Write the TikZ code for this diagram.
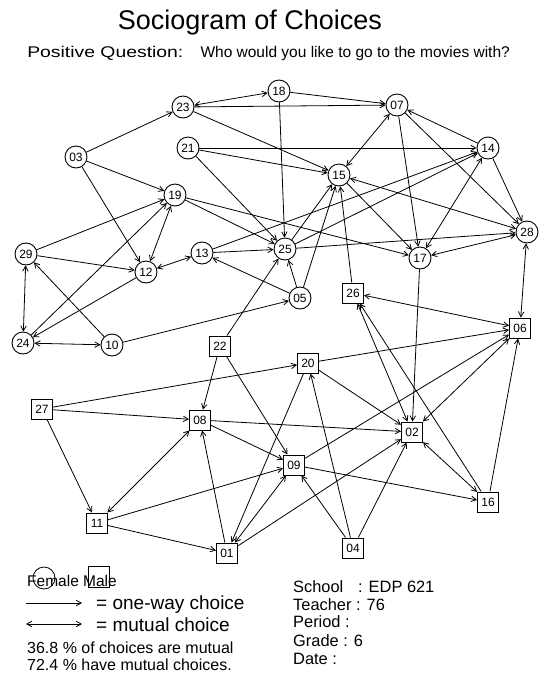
\documentclass[tikz,border=0pt]{standalone}
\usepackage{fontspec}
\setmainfont{Liberation Sans}
\usetikzlibrary{arrows.meta}
\pgfdeclarelayer{background}
\pgfsetlayers{background,main}
\begin{document}
\begin{tikzpicture}[x=1pt,y=-1pt,
  fem/.style={draw, circle, fill=white, minimum size=22pt, inner sep=0pt, line width=0.9pt, font=\fontsize{12}{12}\selectfont},
  mal/.style={draw, rectangle, fill=white, minimum width=21pt, minimum height=20pt, inner sep=0pt, line width=1pt, font=\fontsize{12}{12}\selectfont},
  ch/.style={-{Straight Barb[length=5pt,width=5.5pt]}, line width=0.8pt},
  mu/.style={{Straight Barb[length=5pt,width=5.5pt]}-{Straight Barb[length=5pt,width=5.5pt]}, line width=0.8pt},
  txt/.style={anchor=west, inner sep=0pt},
]
\useasboundingbox (0,0) rectangle (542,673);

% title
\node (title) at (250,23) {\fontsize{27}{27}\selectfont Sociogram of Choices};
\node[txt, xscale=1.25, transform shape] (quest) at (27,53) {\fontsize{15.5}{16}\selectfont Positive Question:};
\node[anchor=east, inner sep=0pt] (quest2) at (510,53) {\fontsize{15.5}{16}\selectfont Who would you like to go to the movies with?};

% female (circles)
\node[fem] (n23) at (183,107) {23};
\node[fem] (n18) at (279,91) {18};
\node[fem] (n07) at (397,105) {07};
\node[fem] (n14) at (488,148) {14};
\node[fem] (n21) at (188,148) {21};
\node[fem] (n03) at (76,157) {03};
\node[fem] (n15) at (339,175) {15};
\node[fem] (n19) at (175,195) {19};
\node[fem] (n28) at (527,232) {28};
\node[fem] (n25) at (285,249) {25};
\node[fem] (n13) at (202,253) {13};
\node[fem] (n29) at (26,254) {29};
\node[fem] (n17) at (420,258) {17};
\node[fem] (n12) at (146,272) {12};
\node[fem] (n05) at (300,298) {05};
\node[fem] (n24) at (23,343) {24};
\node[fem] (n10) at (112,345) {10};
% male (squares)
\node[mal] (n26) at (353,293) {26};
\node[mal] (n06) at (520,328) {06};
\node[mal] (n22) at (220,346) {22};
\node[mal] (n20) at (308,363) {20};
\node[mal] (n27) at (42,409) {27};
\node[mal] (n08) at (200,420) {08};
\node[mal] (n02) at (412,432) {02};
\node[mal] (n09) at (294,465) {09};
\node[mal] (n16) at (488,502) {16};
\node[mal] (n11) at (97,523) {11};
\node[mal] (n01) at (227,553) {01};
\node[mal] (n04) at (353,548) {04};

\begin{pgfonlayer}{background}
% one-way choices
\foreach \a/\b in {03/23,03/19,03/12,23/07,23/15,18/07,18/25,07/17,07/28,
  21/15,21/14,21/25,14/07,14/28,15/17,19/25,19/17,25/15,25/14,25/28,
  13/25,13/14,29/19,29/12,17/02,12/24,05/25,05/13,05/15,24/19,10/29,10/05,
  26/15,22/08,22/09,22/25,20/06,20/02,20/01,27/20,27/08,27/11,08/09,08/02,
  09/16,09/06,16/26,16/06,11/09,11/01,01/08,01/02,04/20,04/09,04/02}
  \draw[ch] (n\a) -- (n\b);
% mutual choices
\foreach \a/\b in {07/15,19/12,12/13,24/29,24/10,14/17,15/28,17/28,28/06,
  26/06,26/02,02/16,02/06,11/08,01/09,18/23}
  \draw[mu] (n\a) -- (n\b);
\end{pgfonlayer}

% legend
\node[txt] (lgfm) at (27,581) {\fontsize{15.5}{15.5}\selectfont Female Male};
\node[draw, circle, minimum size=22pt, inner sep=0pt, line width=0.8pt] (lgc) at (44,578) {};
\node[draw, rectangle, minimum width=21pt, minimum height=21pt, inner sep=0pt, line width=0.8pt] (lgs) at (99,577) {};
\coordinate (a1) at (26,603); \coordinate (b1) at (82,603);
\coordinate (a2) at (26,624); \coordinate (b2) at (82,624);
\draw[ch] (a1) -- (b1);
\draw[mu] (a2) -- (b2);
\node[txt] (lg1) at (96,605) {\fontsize{19}{19}\selectfont = one-way choice};
\node[txt] (lg2) at (96,625) {\fontsize{19}{19}\selectfont = mutual choice};
\node[txt] (st1) at (27,648) {\fontsize{16}{16}\selectfont 36.8 \% of choices are mutual};
\node[txt] (st2) at (27,665) {\fontsize{16}{16}\selectfont 72.4 \% have mutual choices.};

\node[txt] (sc) at (293,587) {\fontsize{16.4}{16}\selectfont School\hspace{0.9em}: EDP 621};
\node[txt] (te) at (293,605) {\fontsize{16.4}{16}\selectfont Teacher : 76};
\node[txt] (pe) at (293,622) {\fontsize{16.4}{16}\selectfont Period :};
\node[txt] (gr) at (293,641) {\fontsize{16.4}{16}\selectfont Grade : 6};
\node[txt] (da) at (293,659) {\fontsize{16.4}{16}\selectfont Date :};
\end{tikzpicture}
\end{document}
